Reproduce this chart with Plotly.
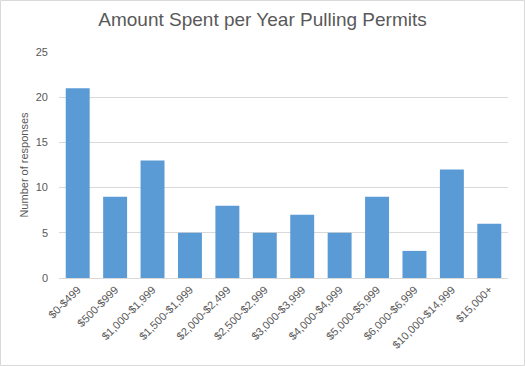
import plotly.graph_objects as go

categories = ["$0-$499", "$500-$999", "$1,000-$1,999", "$1,500-$1,999", "$2,000-$2,499",
              "$2,500-$2,999", "$3,000-$3,999", "$4,000-$4,999", "$5,000-$5,999",
              "$6,000-$6,999", "$10,000-$14,999", "$15,000+"]
values = [21, 9, 13, 5, 8, 5, 7, 5, 9, 3, 12, 6]
y_ticks = [0, 5, 10, 15, 20, 25]

W, H = 525, 366
ml, mr, mt, mb = 59, 17, 52, 88
pw, ph = W - ml - mr, H - mt - mb

fig = go.Figure(go.Bar(x=categories, y=values, marker=dict(color="#5B9BD5", line=dict(width=0)),
                       hoverinfo="skip"))

fig.update_layout(
    width=W, height=H,
    margin=dict(l=ml, r=mr, t=mt, b=mb),
    paper_bgcolor="white", plot_bgcolor="white",
    font=dict(family="Liberation Sans, Arial, sans-serif", color="#595959"),
    title=dict(text="Amount Spent per Year Pulling Permits", x=0.5, xanchor="center",
               y=1 - 19 / H, yanchor="middle", font=dict(size=19, color="#595959")),
    bargap=0.36,
    showlegend=False,
    xaxis=dict(tickangle=-45, tickfont=dict(size=11, color="#595959"), automargin=False,
               showline=True, linecolor="#D9D9D9", linewidth=1, ticks=""),
    yaxis=dict(range=[0, 25], tickvals=y_ticks, tickfont=dict(size=11, color="#595959"),
               automargin=False, ticklabelstandoff=10,
               showgrid=True, gridcolor="#D9D9D9", gridwidth=1, zeroline=False, ticks="",
               title=dict(text="Number of responses", font=dict(size=11, color="#595959"), standoff=4)),
    shapes=[dict(type="rect", xref="paper", yref="paper",
                 x0=-(ml - 0.5) / pw, x1=1 + (mr - 0.5) / pw,
                 y0=-(mb - 0.5) / ph, y1=1 + (mt - 0.5) / ph,
                 line=dict(color="#D9D9D9", width=1), layer="below")],
)

fig.write_html("out.html", config={"displayModeBar": False},
               post_script="document.body.style.margin='0';document.body.style.overflow='hidden';")
